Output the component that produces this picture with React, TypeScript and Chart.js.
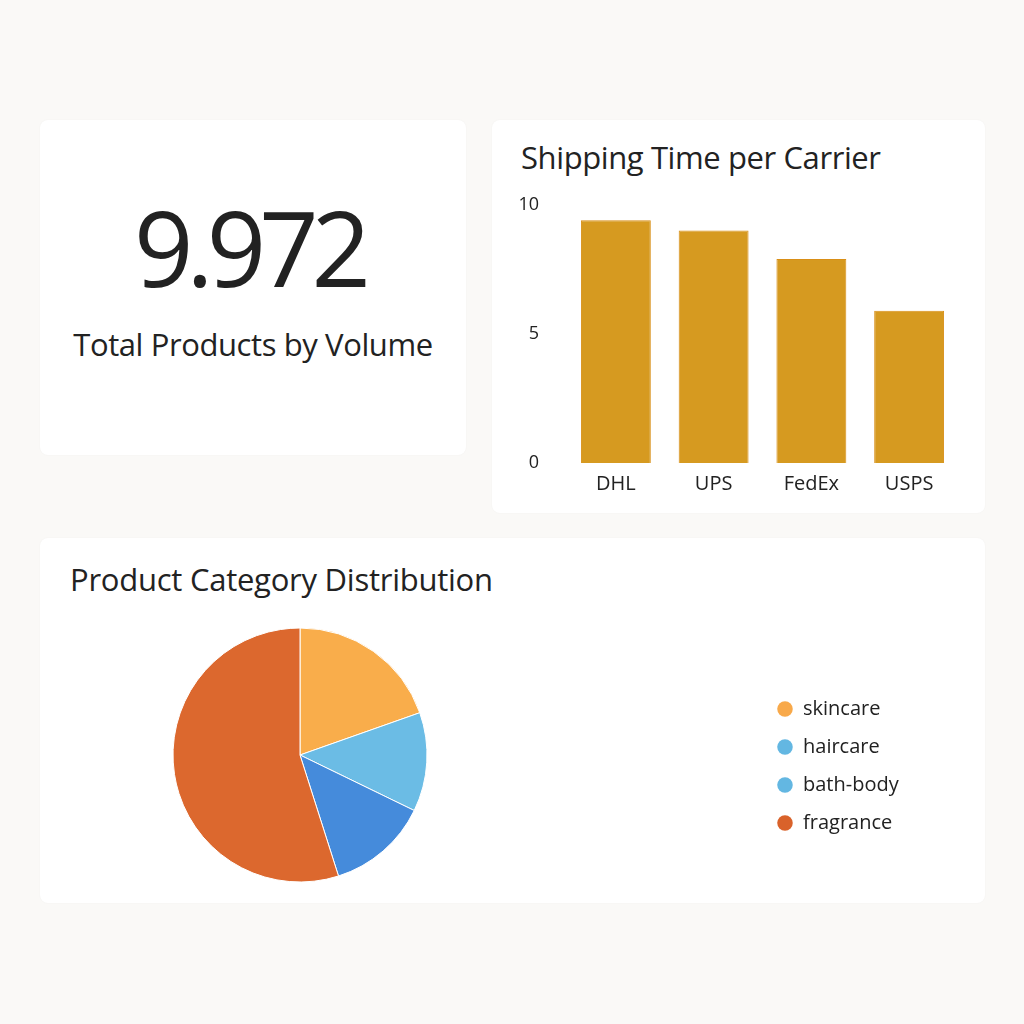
import React, { useEffect, useRef } from "react";
import { Chart, registerables } from "chart.js";

Chart.register(...registerables);

// ---- data ----
const KPI_VALUE = "9.972";
const KPI_LABEL = "Total Products by Volume";

const BAR_TITLE = "Shipping Time per Carrier";
const carriers = ["DHL", "UPS", "FedEx", "USPS"];
const shippingTimes = [9.4, 9.0, 7.9, 5.9];
const yTickValues = [0, 5, 10];

const PIE_TITLE = "Product Category Distribution";
const categories = ["skincare", "haircare", "bath-body", "fragrance"];
const categoryShares = [19.6, 12.6, 12.9, 54.9];
const sliceColors = ["#F9AD4B", "#6BBCE5", "#458BDB", "#DC682E"];
const legendColors = ["#F8A94A", "#63B7E2", "#63B7E2", "#D9622A"];

const FONT = "'Open Sans', 'Noto Sans', sans-serif";
const TEXT = "#222222";

const legendPlacement = {
  id: "legendPlacement",
  afterInit(chart: any) {
    const legend = chart.legend;
    if (!legend) return;
    const fit = legend.fit.bind(legend);
    legend.fit = function () {
      fit();
      this.width = 0;
    };
  },
  afterLayout(chart: any, _args: any, opts: any) {
    const legend = chart.legend;
    if (!legend) return;
    legend.left = opts.x;
    legend.right = opts.x + 200;
    legend.top += opts.dy;
    legend.bottom += opts.dy;
  },
};

function BarChart() {
  const ref = useRef<HTMLCanvasElement | null>(null);
  useEffect(() => {
    if (!ref.current) return;
    const chart = new Chart(ref.current, {
      type: "bar",
      data: {
        labels: carriers,
        datasets: [
          {
            data: shippingTimes,
            backgroundColor: "#D69A20",
            borderColor: "#D98F17",
            borderWidth: 1,
            categoryPercentage: 1,
            barPercentage: 0.715,
          },
        ],
      },
      options: {
        animation: false,
        responsive: false,
        maintainAspectRatio: false,
        layout: { padding: { top: 14, right: 12, left: 0, bottom: 0 } },
        plugins: { legend: { display: false }, tooltip: { enabled: false } },
        scales: {
          x: {
            grid: { display: false, drawTicks: false },
            border: { display: false },
            ticks: { color: TEXT, font: { family: FONT, size: 20 }, padding: 9 },
            afterFit: (s: any) => {
              s.height = 42;
            },
          },
          y: {
            min: 0,
            max: 10,
            grid: { display: false, drawTicks: false },
            border: { display: false },
            ticks: { color: TEXT, font: { family: FONT, size: 18 }, padding: 28 },
            afterBuildTicks: (s: any) => {
              s.ticks = yTickValues.map((v) => ({ value: v }));
            },
            afterFit: (s: any) => {
              s.width = 67;
            },
          },
        },
      },
    });
    return () => chart.destroy();
  }, []);
  return (
    <canvas
      ref={ref}
      width={470}
      height={339}
      style={{ position: "absolute", left: 500, top: 166, width: 470, height: 339 }}
    />
  );
}

function PieChart() {
  const ref = useRef<HTMLCanvasElement | null>(null);
  useEffect(() => {
    if (!ref.current) return;
    const chart = new Chart(ref.current, {
      type: "pie",
      data: {
        labels: categories,
        datasets: [
          {
            data: categoryShares,
            backgroundColor: sliceColors,
            borderColor: "#ffffff",
            borderWidth: 1,
          },
        ],
      },
      options: {
        animation: false,
        responsive: false,
        maintainAspectRatio: false,
        layout: { padding: { top: 7.5, bottom: 7.5, left: 0, right: 425 } },
        plugins: {
          tooltip: { enabled: false },
          legendPlacement: { x: 719, dy: 11 },
          legend: {
            position: "right",
            labels: {
              usePointStyle: true,
              boxWidth: 16,
              boxHeight: 11,
              padding: 18,
              color: TEXT,
              font: { family: FONT, size: 20 },
              generateLabels: () =>
                categories.map((c, i) => ({
                  text: c,
                  fillStyle: legendColors[i],
                  strokeStyle: legendColors[i],
                  lineWidth: 0,
                  pointStyle: "circle",
                  hidden: false,
                  index: i,
                  fontColor: TEXT,
                })),
            },
          },
        } as any,
      },
      plugins: [legendPlacement],
    });
    return () => chart.destroy();
  }, []);
  return (
    <canvas
      ref={ref}
      width={945}
      height={270}
      style={{ position: "absolute", left: 40, top: 620, width: 945, height: 270 }}
    />
  );
}

const card: React.CSSProperties = {
  position: "absolute",
  background: "#ffffff",
  borderRadius: 8,
  boxShadow: "0 0 2px rgba(0,0,0,0.04)",
};

const textBase: React.CSSProperties = {
  position: "absolute",
  fontFamily: FONT,
  color: TEXT,
  lineHeight: 1,
  whiteSpace: "nowrap",
};

export default function App() {
  return (
    <div
      style={{
        position: "absolute",
        left: 0,
        top: 0,
        width: 1024,
        height: 1024,
        background: "#FAF9F7",
        overflow: "hidden",
      }}
    >
      <div style={{ ...card, left: 40, top: 120, width: 426, height: 335 }} />
      <div style={{ ...card, left: 492, top: 120, width: 493, height: 393 }} />
      <div style={{ ...card, left: 40, top: 538, width: 945, height: 365 }} />

      <div
        style={{
          ...textBase,
          left: 36,
          width: 426,
          textAlign: "center",
          top: 195,
          fontSize: 104,
          letterSpacing: -7,
        }}
      >
        {KPI_VALUE}
      </div>
      <div
        style={{
          ...textBase,
          left: 40,
          width: 426,
          textAlign: "center",
          top: 329,
          fontSize: 31,
          letterSpacing: -0.4,
        }}
      >
        {KPI_LABEL}
      </div>

      <div style={{ ...textBase, left: 521, top: 142, fontSize: 31, letterSpacing: -0.4 }}>
        {BAR_TITLE}
      </div>
      <div style={{ ...textBase, left: 70, top: 564, fontSize: 31, letterSpacing: -0.25 }}>
        {PIE_TITLE}
      </div>

      <BarChart />
      <PieChart />
    </div>
  );
}
